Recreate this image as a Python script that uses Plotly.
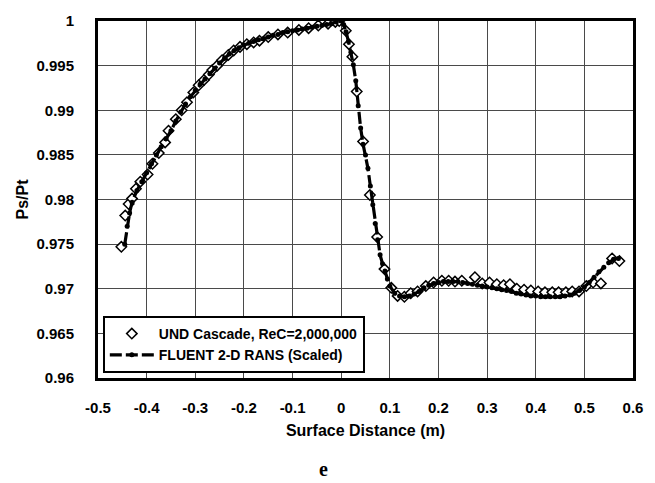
import plotly.graph_objects as go

# Surface static-to-total pressure ratio along the blade surface
# UND cascade measurements
exp_x = [-0.452, -0.444, -0.437, -0.430, -0.422, -0.413, -0.398, -0.388, -0.375, -0.362,
         -0.355, -0.340, -0.328, -0.317, -0.304, -0.293, -0.282, -0.272, -0.265, -0.255,
         -0.245, -0.232, -0.221, -0.208, -0.194, -0.180, -0.168, -0.150, -0.130, -0.110,
         -0.087, -0.067, -0.047, -0.027, -0.012, -0.004, 0.0095, 0.016, 0.023, 0.032,
         0.045, 0.059, 0.074, 0.089, 0.103, 0.116, 0.130, 0.143, 0.157, 0.174,
         0.190, 0.207, 0.221, 0.234, 0.248, 0.275, 0.290, 0.305, 0.320, 0.334,
         0.347, 0.361, 0.376, 0.390, 0.405, 0.419, 0.434, 0.447, 0.462, 0.475,
         0.489, 0.504, 0.518, 0.534, 0.557, 0.572]
exp_y = [0.9747, 0.9782, 0.9795, 0.9801, 0.9812, 0.9820, 0.9828, 0.9840, 0.9852, 0.9864,
         0.9877, 0.9890, 0.9900, 0.9909, 0.9920, 0.9928, 0.9934, 0.9940, 0.9945, 0.9950,
         0.9956, 0.9962, 0.9967, 0.9971, 0.9974, 0.9976, 0.9978, 0.9982, 0.9985, 0.9987,
         0.9990, 0.9992, 0.9995, 0.9997, 0.9999, 1.0000, 0.9989, 0.9974, 0.9960, 0.9921,
         0.9865, 0.9805, 0.9758, 0.9722, 0.9701, 0.9692, 0.9691, 0.9695, 0.9697, 0.9703,
         0.9707, 0.9709, 0.9709, 0.9708, 0.9709, 0.9713, 0.9706, 0.9707, 0.9705, 0.9704,
         0.9705, 0.9700, 0.9699, 0.9698, 0.9697, 0.9696, 0.9696, 0.9696, 0.9696, 0.9697,
         0.9697, 0.9703, 0.9707, 0.9706, 0.9734, 0.9731]

# FLUENT 2-D RANS prediction (scaled)
cfd_x = [-0.445, -0.440, -0.435, -0.430, -0.420, -0.410, -0.400, -0.390, -0.380, -0.370,
         -0.360, -0.350, -0.340, -0.330, -0.320, -0.310, -0.300, -0.290, -0.280, -0.270,
         -0.260, -0.250, -0.240, -0.230, -0.220, -0.210, -0.200, -0.190, -0.180, -0.170,
         -0.160, -0.150, -0.140, -0.130, -0.120, -0.110, -0.100, -0.090, -0.080, -0.070,
         -0.060, -0.050, -0.040, -0.030, -0.020, -0.010, 0.000, 0.005, 0.010, 0.015,
         0.020, 0.025, 0.030, 0.035, 0.040, 0.045, 0.050, 0.055, 0.060, 0.065,
         0.070, 0.075, 0.080, 0.085, 0.090, 0.095, 0.100, 0.110, 0.120, 0.130,
         0.140, 0.150, 0.160, 0.170, 0.180, 0.190, 0.200, 0.210, 0.220, 0.230,
         0.240, 0.250, 0.260, 0.270, 0.280, 0.290, 0.300, 0.310, 0.320, 0.330,
         0.340, 0.350, 0.360, 0.370, 0.380, 0.390, 0.400, 0.410, 0.420, 0.430,
         0.440, 0.450, 0.460, 0.470, 0.480, 0.490, 0.500, 0.510, 0.520, 0.530,
         0.540, 0.550, 0.560, 0.570]
cfd_y = [0.9750, 0.9770, 0.9785, 0.9797, 0.9810, 0.9820, 0.9830, 0.9840, 0.9850, 0.9859,
         0.9868, 0.9877, 0.9888, 0.9898, 0.9907, 0.9915, 0.9922, 0.9929, 0.9935, 0.9941,
         0.9947, 0.9953, 0.9958, 0.9963, 0.9967, 0.9970, 0.9973, 0.9975, 0.9977, 0.9979,
         0.9980, 0.9982, 0.9984, 0.9985, 0.9987, 0.9988, 0.9989, 0.9990, 0.9991, 0.9992,
         0.9993, 0.9994, 0.9995, 0.9996, 0.9997, 0.9999, 1.0000, 0.9996, 0.9988, 0.9977,
         0.9965, 0.9951, 0.9933, 0.9905, 0.9880, 0.9862, 0.9850, 0.9835, 0.9815, 0.9794,
         0.9773, 0.9755, 0.9738, 0.9728, 0.9720, 0.9711, 0.9703, 0.9695, 0.9692, 0.9691,
         0.9692, 0.9694, 0.9697, 0.9701, 0.9704, 0.9706, 0.9707, 0.9708, 0.9708, 0.9708,
         0.9708, 0.9707, 0.9706, 0.9705, 0.9704, 0.9703, 0.9702, 0.9701, 0.9700, 0.9699,
         0.9698, 0.9697, 0.9695, 0.9694, 0.9693, 0.9692, 0.9692, 0.9691, 0.9691, 0.9691,
         0.9691, 0.9691, 0.9692, 0.9693, 0.9695, 0.9698, 0.9702, 0.9707, 0.9713, 0.9719,
         0.9724, 0.9729, 0.9733, 0.9734]

x_ticks = [-0.5, -0.4, -0.3, -0.2, -0.1, 0.0, 0.1, 0.2, 0.3, 0.4, 0.5, 0.6]
x_tick_labels = ["-0.5", "-0.4", "-0.3", "-0.2", "-0.1", "0", "0.1", "0.2", "0.3", "0.4", "0.5", "0.6"]
y_ticks = [0.96, 0.965, 0.97, 0.975, 0.98, 0.985, 0.99, 0.995, 1.0]
y_tick_labels = ["0.96", "0.965", "0.97", "0.975", "0.98", "0.985", "0.99", "0.995", "1"]

FONT = "Liberation Sans Narrow, Arial Narrow, Liberation Sans, Arial, sans-serif"

fig = go.Figure()

# measured points underneath, CFD curve drawn over them
fig.add_trace(go.Scatter(
    x=exp_x, y=exp_y, mode="markers",
    name="UND Cascade, ReC=2,000,000",
    marker=dict(symbol="diamond", size=8, color="white",
                line=dict(color="black", width=1.5)),
))

fig.add_trace(go.Scatter(
    x=cfd_x, y=cfd_y, mode="lines+markers",
    name="FLUENT 2-D RANS (Scaled)",
    line=dict(color="black", width=3.2, dash="12px,4px"),
    marker=dict(symbol="circle", size=5, color="black"),
))

axis_common = dict(
    showline=True, linecolor="black", linewidth=3, mirror=True,
    showgrid=True, gridcolor="#4a4a4a", gridwidth=1,
    zeroline=False, ticks="",
    tickfont=dict(family=FONT, size=15, color="black", weight="bold"),
)

fig.update_xaxes(
    range=[-0.5, 0.6], tickvals=x_ticks, ticktext=x_tick_labels,
    ticklabelstandoff=14,
    title=dict(text="Surface Distance (m)", standoff=10,
               font=dict(family=FONT, size=16, color="black", weight="bold")),
    **axis_common,
)
fig.update_yaxes(
    range=[0.96, 1.0], tickvals=y_ticks, ticktext=y_tick_labels,
    ticklabelstandoff=18,
    title=dict(text="Ps/Pt", standoff=4,
               font=dict(family=FONT, size=16, color="black", weight="bold")),
    **axis_common,
)

fig.add_annotation(
    text="e", xref="paper", yref="paper", x=0.422, y=-0.255,
    showarrow=False, xanchor="center", yanchor="middle",
    font=dict(family="Liberation Serif, Times New Roman, serif", size=20,
              color="black", weight="bold"),
)

fig.update_layout(
    width=655, height=483,
    margin=dict(l=98, r=14, t=17, b=105),
    paper_bgcolor="white", plot_bgcolor="white",
    showlegend=True,
    legend=dict(
        x=0.009, y=0.014, xanchor="left", yanchor="bottom",
        bgcolor="white", bordercolor="black", borderwidth=2,
        font=dict(family=FONT, size=14, color="black", weight="bold"),
        itemwidth=44, tracegroupgap=0,
    ),
)

fig.write_html("out.html")
